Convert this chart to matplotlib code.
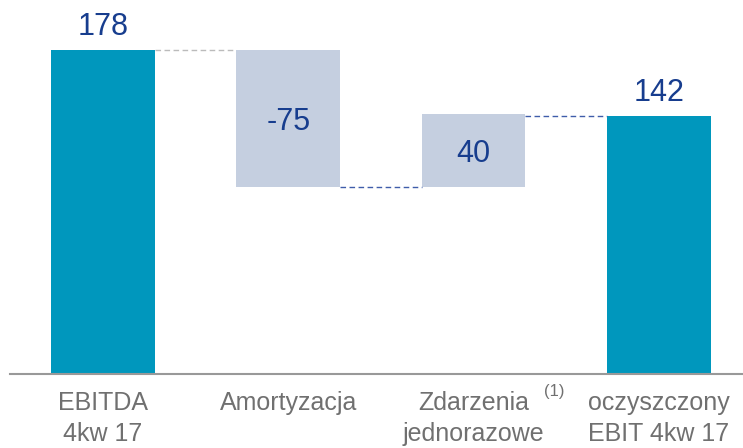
import matplotlib.pyplot as plt

# dane
categories = ['EBITDA\n4kw 17', 'Amortyzacja', 'Zdarzenia\njednorazowe', 'oczyszczony\nEBIT 4kw 17']
start_value = 178
deltas = [-75, 40]
end_value = 142
value_labels = ['178', '-75', '40', '142']

plt.rcParams['font.family'] = ['Liberation Sans', 'DejaVu Sans']

teal = '#0097BD'
light = '#C5CFE0'
txt_blue = '#173D8E'
gray_txt = '#707070'

fig = plt.figure(figsize=(7.43, 4.48), dpi=100)
ax = fig.add_axes([10 / 743, (448 - 374) / 448, 733 / 743, 374 / 448])

w = 0.56
x = list(range(len(categories)))

# pierwsza kolumna
ax.bar(x[0], start_value, width=w, color=teal)
# zmiany
running = start_value
bottoms = []
for i, d in enumerate(deltas):
    b = running + d if d < 0 else running
    bottoms.append((b, abs(d)))
    ax.bar(x[i + 1], abs(d), bottom=b, width=w, color=light)
    running += d
# ostatnia kolumna
ax.bar(x[3], end_value, width=w, color=teal)

# linie łączące
levels = [start_value, start_value + deltas[0], end_value]
colors = ['#BBBBBB', '#3F5DAA', '#3F5DAA']
for i, lv in enumerate(levels):
    ax.plot([x[i] + w / 2, x[i + 1] - w / 2], [lv, lv], color=colors[i],
            lw=1, linestyle=(0, (4, 2.5)))

# etykiety wartości
ax.annotate(value_labels[0], (x[0], start_value), xytext=(0, 5.5), textcoords='offset points',
            ha='center', va='bottom', fontsize=22, color=txt_blue)
for i, (b, h) in enumerate(bottoms):
    ax.annotate(value_labels[i + 1], (x[i + 1], b + h / 2), xytext=(0, -3),
                textcoords='offset points', ha='center', va='center',
                fontsize=22, color=txt_blue)
ax.annotate(value_labels[3], (x[3], end_value), xytext=(0, 5.5), textcoords='offset points',
            ha='center', va='bottom', fontsize=22, color=txt_blue)

ax.set_xlim(-0.502, 3.454)
ax.set_ylim(0, 205.5)
ax.set_xticks(x)
ax.set_xticklabels(categories, fontsize=18, color=gray_txt, linespacing=1.4)
ax.tick_params(axis='x', length=0, pad=12)
ax.set_yticks([])
for s in ['top', 'right', 'left']:
    ax.spines[s].set_visible(False)
ax.spines['bottom'].set_color('#999999')
ax.spines['bottom'].set_linewidth(1.5)

# przypis (1)
ax.annotate('(1)', (x[2], 0), xytext=(51, -7.5), textcoords='offset points',
            ha='left', va='top', fontsize=12, color=gray_txt)

fig.savefig('out.png', dpi=100)
